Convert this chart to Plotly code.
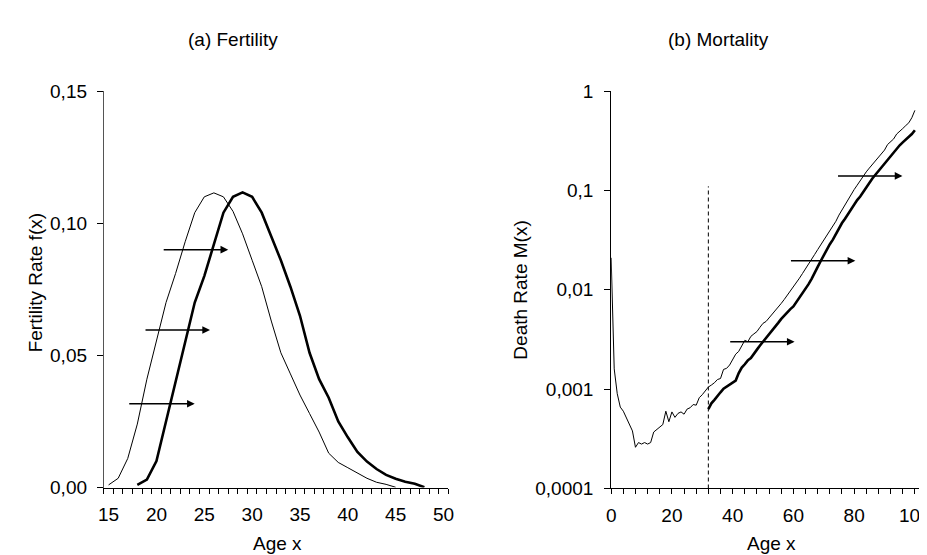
import math
import plotly.graph_objects as go

# ---------------- data ----------------
# (a) Fertility: age-specific fertility rates, earlier (thin) and later (bold) schedule
fert_age_thin = list(range(15, 46))
fert_thin = [0.001, 0.0035, 0.011, 0.024, 0.041, 0.056, 0.070, 0.081, 0.093, 0.104,
             0.110, 0.1115, 0.110, 0.1045, 0.096, 0.086, 0.076, 0.063, 0.051, 0.043,
             0.035, 0.028, 0.021, 0.013, 0.0095, 0.0075, 0.0055, 0.0035, 0.002, 0.0012,
             0.0001]
fert_age_bold = list(range(18, 49))
fert_bold = [0.001, 0.003, 0.010, 0.025, 0.040, 0.056, 0.070, 0.080, 0.092, 0.104,
             0.110, 0.1117, 0.110, 0.104, 0.095, 0.086, 0.076, 0.065, 0.051, 0.041,
             0.034, 0.025, 0.019, 0.0135, 0.0098, 0.007, 0.0048, 0.0033, 0.0022, 0.0014,
             0.0001]

# (b) Mortality: death rates M(x)
mort_age_thin = list(range(0, 101))
mort_thin = [0.021, 0.0016, 0.0009, 0.00066, 0.00060, 0.00052, 0.00045, 0.00038, 0.00026, 0.00029,
             0.00028, 0.00029, 0.00028, 0.00029, 0.00037, 0.00039, 0.00042, 0.00044, 0.00060, 0.00047,
             0.00059, 0.00052, 0.00057, 0.00059, 0.00056, 0.00063, 0.00065, 0.00070, 0.00069, 0.00082,
             0.00088, 0.00097, 0.00105, 0.00110, 0.00116, 0.00125, 0.00128, 0.00158, 0.00162, 0.00175,
             0.00200, 0.00225, 0.00240, 0.00270, 0.00310, 0.00300, 0.00340, 0.00360, 0.00380, 0.00420,
             0.00460, 0.00480, 0.00520, 0.00560, 0.00610, 0.00660, 0.00730, 0.00800, 0.00880, 0.00970,
             0.01060, 0.01180, 0.01310, 0.01460, 0.01620, 0.01820, 0.02030, 0.02270, 0.02540, 0.02830,
             0.03150, 0.03520, 0.03920, 0.04380, 0.04900, 0.05650, 0.06400, 0.07200, 0.08100, 0.09200,
             0.10200, 0.11300, 0.12600, 0.14000, 0.15400, 0.16800, 0.18300, 0.20000, 0.21800, 0.23500,
             0.25500, 0.29000, 0.31000, 0.33000, 0.37000, 0.39000, 0.42000, 0.45000, 0.48000, 0.54000,
             0.64000]
mort_age_bold = list(range(32, 101))
mort_bold = [0.00063, 0.00072, 0.00078, 0.00086, 0.00093, 0.00101, 0.00106, 0.00112, 0.00118, 0.00122,
             0.00145, 0.00165, 0.00178, 0.00195, 0.00206, 0.00230, 0.00250, 0.00275, 0.00300, 0.00320,
             0.00355, 0.00390, 0.00425, 0.00465, 0.00510, 0.00555, 0.00600, 0.00640, 0.00680, 0.00750,
             0.00830, 0.00920, 0.01020, 0.01140, 0.01290, 0.01460, 0.01700, 0.01950, 0.02250, 0.02550,
             0.02880, 0.03200, 0.03650, 0.04150, 0.04700, 0.05200, 0.05800, 0.06500, 0.07300, 0.08000,
             0.08700, 0.09700, 0.10800, 0.12000, 0.13200, 0.14400, 0.15700, 0.17200, 0.18800, 0.20500,
             0.22000, 0.24000, 0.26500, 0.28500, 0.30500, 0.32500, 0.34800, 0.37000, 0.40400]

# shift arrows: start age, end age, level
fert_arrow_x0 = [20.6, 18.7, 17.0]
fert_arrow_x1 = [27.5, 25.6, 24.0]
fert_arrow_y = [0.090, 0.0596, 0.0317]
mort_arrow_x0 = [74.2, 58.7, 38.7]
mort_arrow_x1 = [95.9, 80.4, 60.4]
mort_arrow_y = [0.14, 0.0196, 0.0030]

# dashed reference line (age, top level)
ref_age = 32
ref_top = 0.11

fert_xticks = [15, 20, 25, 30, 35, 40, 45, 50]
fert_yticks = [0.0, 0.05, 0.10, 0.15]
fert_ytext = ["0,00", "0,05", "0,10", "0,15"]
mort_xticks = [0, 20, 40, 60, 80, 100]
mort_yticks = [0.0001, 0.001, 0.01, 0.1, 1]
mort_ytext = ["0,0001", "0,001", "0,01", "0,1", "1"]

# ---------------- figure ----------------
W, H = 927, 555
FONT = "Liberation Sans, Arial, sans-serif"
FS = 19

def px(x):
    return x / W

def py(y):
    return 1 - y / H

fig = go.Figure()

fig.add_trace(go.Scatter(x=fert_age_thin, y=fert_thin, mode="lines",
                         line=dict(color="black", width=1), xaxis="x", yaxis="y",
                         showlegend=False, hoverinfo="skip"))
fig.add_trace(go.Scatter(x=fert_age_bold, y=fert_bold, mode="lines",
                         line=dict(color="black", width=2.6), xaxis="x", yaxis="y",
                         showlegend=False, hoverinfo="skip"))
fig.add_trace(go.Scatter(x=mort_age_thin, y=mort_thin, mode="lines",
                         line=dict(color="black", width=1), xaxis="x2", yaxis="y2",
                         showlegend=False, hoverinfo="skip"))
fig.add_trace(go.Scatter(x=mort_age_bold, y=mort_bold, mode="lines",
                         line=dict(color="black", width=2.6), xaxis="x2", yaxis="y2",
                         showlegend=False, hoverinfo="skip"))
fig.add_trace(go.Scatter(x=[ref_age, ref_age], y=[mort_yticks[0], ref_top], mode="lines",
                         line=dict(color="black", width=1, dash="4px,3px"), xaxis="x2", yaxis="y2",
                         showlegend=False, hoverinfo="skip"))

annotations = []
for x0, x1, yv in zip(fert_arrow_x0, fert_arrow_x1, fert_arrow_y):
    annotations.append(dict(x=x1, y=yv, ax=x0, ay=yv, xref="x", yref="y", axref="x", ayref="y",
                            text="", showarrow=True, arrowhead=2, arrowsize=1.1, arrowwidth=1.4,
                            arrowcolor="black", standoff=0, startstandoff=0))
for x0, x1, yv in zip(mort_arrow_x0, mort_arrow_x1, mort_arrow_y):
    ly = math.log10(yv)
    annotations.append(dict(x=x1, y=ly, ax=x0, ay=ly, xref="x2", yref="y2", axref="x2", ayref="y2",
                            text="", showarrow=True, arrowhead=2, arrowsize=1.1, arrowwidth=1.4,
                            arrowcolor="black", standoff=0, startstandoff=0))

def label(text, x, y, angle=0):
    return dict(text=text, x=px(x), y=py(y), xref="paper", yref="paper", showarrow=False,
                xanchor="center", yanchor="middle", textangle=angle,
                font=dict(family=FONT, size=FS, color="black"))

annotations += [
    label("(a) Fertility", 222, 22),
    label("(b) Mortality", 714, 22),
    label("Age x", 267, 546),
    label("Age x", 767, 546),
    label("Fertility Rate f(x)", 22, 275, -90),
    label("Death Rate M(x)", 513, 283, -90),
]

axis_common = dict(showline=True, linecolor="black", linewidth=1, showgrid=False, zeroline=False,
                   tickfont=dict(family=FONT, size=FS, color="black"), tickcolor="black",
                   fixedrange=True)

fig.update_layout(
    width=W, height=H,
    margin=dict(l=0, r=0, t=0, b=0),
    paper_bgcolor="white", plot_bgcolor="white",
    font=dict(family=FONT, size=FS, color="black"),
    xaxis=dict(domain=[px(91), px(440)], range=[14.5, 50.5], anchor="y",
               tickvals=fert_xticks, ticks="", ticklabelstandoff=10,
               minor=dict(tick0=14.5, dtick=1, ticks="outside", ticklen=5, tickcolor="black"),
               **axis_common),
    yaxis=dict(domain=[py(488), py(76)], range=[0, 0.15], anchor="x",
               tickvals=fert_yticks, ticktext=fert_ytext, ticks="outside", ticklen=6,
               ticklabelstandoff=6, **{**axis_common, "linecolor": "#555"}),
    xaxis2=dict(domain=[px(605), px(925)], range=[0, 104], anchor="y2",
                tickvals=mort_xticks, ticks="outside", ticklen=5, ticklabelstandoff=5,
                minor=dict(tick0=0, dtick=4, ticks="outside", ticklen=5, tickcolor="black"),
                **axis_common),
    yaxis2=dict(domain=[py(489), py(76)], type="log", range=[-4, 0], anchor="x2",
                tickvals=mort_yticks, ticktext=mort_ytext, ticks="outside", ticklen=6,
                ticklabelstandoff=7, **axis_common),
    annotations=annotations,
)

fig.write_html("out.html")
